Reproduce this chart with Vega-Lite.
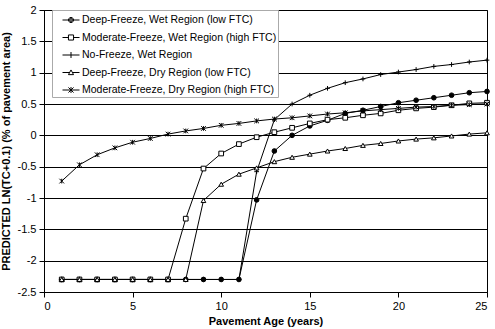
{
  "$schema": "https://vega.github.io/schema/vega-lite/v6.json",
  "width": 443,
  "height": 282,
  "autosize": {"type": "none"},
  "padding": {"left": 44, "top": 10, "right": 8, "bottom": 37},
  "background": "white",
  "data": {"values": [
    {"age":1,"A":-2.3,"B":-2.3,"C":-2.3,"D":-2.3,"E":-0.73},
    {"age":2,"A":-2.3,"B":-2.3,"C":-2.3,"D":-2.3,"E":-0.47},
    {"age":3,"A":-2.3,"B":-2.3,"C":-2.3,"D":-2.3,"E":-0.31},
    {"age":4,"A":-2.3,"B":-2.3,"C":-2.3,"D":-2.3,"E":-0.20},
    {"age":5,"A":-2.3,"B":-2.3,"C":-2.3,"D":-2.3,"E":-0.11},
    {"age":6,"A":-2.3,"B":-2.3,"C":-2.3,"D":-2.3,"E":-0.05},
    {"age":7,"A":-2.3,"B":-2.3,"C":-2.3,"D":-2.3,"E":0.02},
    {"age":8,"A":-2.3,"B":-1.33,"C":-2.3,"D":-2.3,"E":0.07},
    {"age":9,"A":-2.3,"B":-0.53,"C":-2.3,"D":-1.04,"E":0.11},
    {"age":10,"A":-2.3,"B":-0.29,"C":-2.3,"D":-0.78,"E":0.16},
    {"age":11,"A":-2.3,"B":-0.14,"C":-2.3,"D":-0.62,"E":0.19},
    {"age":12,"A":-1.03,"B":-0.03,"C":-0.58,"D":-0.52,"E":0.23},
    {"age":13,"A":-0.25,"B":0.05,"C":0.25,"D":-0.42,"E":0.26},
    {"age":14,"A":0.0,"B":0.12,"C":0.50,"D":-0.35,"E":0.28},
    {"age":15,"A":0.15,"B":0.19,"C":0.64,"D":-0.30,"E":0.31},
    {"age":16,"A":0.24,"B":0.25,"C":0.75,"D":-0.25,"E":0.34},
    {"age":17,"A":0.35,"B":0.28,"C":0.84,"D":-0.21,"E":0.36},
    {"age":18,"A":0.40,"B":0.32,"C":0.90,"D":-0.16,"E":0.39},
    {"age":19,"A":0.46,"B":0.35,"C":0.97,"D":-0.13,"E":0.41},
    {"age":20,"A":0.52,"B":0.40,"C":1.01,"D":-0.09,"E":0.43},
    {"age":21,"A":0.56,"B":0.43,"C":1.05,"D":-0.06,"E":0.45},
    {"age":22,"A":0.60,"B":0.45,"C":1.10,"D":-0.04,"E":0.46},
    {"age":23,"A":0.64,"B":0.48,"C":1.13,"D":-0.01,"E":0.48},
    {"age":24,"A":0.68,"B":0.51,"C":1.17,"D":0.02,"E":0.49},
    {"age":25,"A":0.70,"B":0.52,"C":1.20,"D":0.04,"E":0.50}
  ]},
  "transform": [
    {"fold": ["A","B","C","D","E"], "as": ["key","value"]},
    {"lookup": "key", "from": {"data": {"values": [
      {"key":"A","series":"Deep-Freeze, Wet Region (low FTC)"},
      {"key":"B","series":"Moderate-Freeze, Wet Region (high FTC)"},
      {"key":"C","series":"No-Freeze, Wet Region"},
      {"key":"D","series":"Deep-Freeze, Dry Region (low FTC)"},
      {"key":"E","series":"Moderate-Freeze, Dry Region (high FTC)"}
    ]}, "key": "key", "fields": ["series"]}}
  ],
  "encoding": {
    "x": {"field": "age", "type": "quantitative",
      "scale": {"domain": [0, 25], "nice": false, "zero": false},
      "axis": {"values": [0,5,10,15,20,25], "grid": false, "title": "Pavement Age (years)", "tickSize": 5, "labelPadding": 3, "titlePadding": 4}},
    "y": {"field": "value", "type": "quantitative",
      "scale": {"domain": [-2.5, 2], "nice": false, "zero": false},
      "axis": {"values": [-2.5,-2,-1.5,-1,-0.5,0,0.5,1,1.5,2], "grid": true, "labelExpr": "datum.value + ''", "title": "PREDICTED LN(TC+0.1) (% of pavement area)", "tickSize": 5, "labelPadding": 3, "titlePadding": 6}}
  },
  "layer": [
    {
      "mark": {"type": "line", "color": "black", "strokeWidth": 1},
      "encoding": {"detail": {"field": "key"}}
    },
    {
      "mark": {"type": "point", "filled": false, "stroke": "black", "strokeWidth": 1, "size": 22, "opacity": 1},
      "encoding": {
        "shape": {"field": "key", "type": "nominal", "legend": null,
          "scale": {"domain": ["A","B","C","D","E"], "range": ["circle","square","M-1,0H1M0,-1V1","triangle-up","M-1,-1L1,1M-1,1L1,-1M0,-1V1"]}},
        "fill": {"field": "key", "type": "nominal", "legend": null,
          "scale": {"domain": ["A","B","C","D","E"], "range": ["black","white","white","white","white"]}}
      }
    },
    {
      "mark": {"type": "point", "filled": false, "stroke": "black", "strokeWidth": 1, "size": 289, "opacity": 0},
      "encoding": {
        "shape": {"field": "series", "type": "nominal",
          "scale": {"domain": ["Deep-Freeze, Wet Region (low FTC)","Moderate-Freeze, Wet Region (high FTC)","No-Freeze, Wet Region","Deep-Freeze, Dry Region (low FTC)","Moderate-Freeze, Dry Region (high FTC)"],
            "range": ["M-1,0H-0.3M0.3,0H1M-0.3,0A0.3,0.3,0,1,0,0.3,0A0.3,0.3,0,1,0,-0.3,0ZM-0.18,0A0.18,0.18,0,1,0,0.18,0A0.18,0.18,0,1,0,-0.18,0ZM-0.06,0A0.06,0.06,0,1,0,0.06,0A0.06,0.06,0,1,0,-0.06,0Z","M-1,0H-0.3M0.3,0H1M-0.3,-0.3H0.3V0.3H-0.3Z","M-1,0H1M0,-0.35V0.35","M-1,0H-0.16M0.16,0H1M0,-0.3L0.3,0.25H-0.3Z","M-1,0H1M-0.3,-0.3L0.3,0.3M-0.3,0.3L0.3,-0.3M0,-0.35V0.35"]},
          "legend": {"title": null, "orient": "none", "legendX": 8, "legendY": 0, "symbolOpacity": 1, "symbolSize": 289, "symbolStrokeColor": "black", "symbolStrokeWidth": 1, "symbolFillColor": "white", "symbolOffset": 9, "labelFontSize": 10.5, "labelFont": "Liberation Sans", "labelColor": "black", "labelOffset": 2, "labelExpr": "datum.label + '   '", "rowPadding": 2.5, "padding": 1, "strokeColor": "#aaaaaa", "fillColor": "white", "labelLimit": 300}}
      }
    }
  ],
  "resolve": {"scale": {"shape": "independent"}, "legend": {"shape": "independent"}},
  "config": {
    "font": "Liberation Sans",
    "view": {"stroke": "black", "strokeWidth": 1},
    "axis": {"domainColor": "black", "tickColor": "black", "labelColor": "black", "titleColor": "black", "labelFontSize": 11, "titleFontSize": 11, "titleFontWeight": "bold", "gridColor": "black", "gridOpacity": 1, "gridWidth": 1, "labelFont": "Liberation Sans", "titleFont": "Liberation Sans"}
  }
}
